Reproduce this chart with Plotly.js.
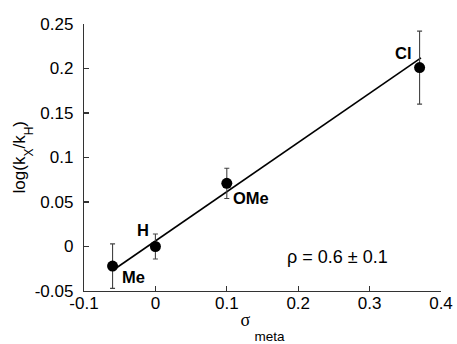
<!DOCTYPE html>
<html>
<head>
<meta charset="utf-8">
<script src="https://cdn.plot.ly/plotly-3.0.1.min.js"></script>
<style>html,body{margin:0;padding:0;background:#fff;}#chart{width:457px;height:344px;}</style>
</head>
<body>
<div id="chart"></div>
<script>
const labels = ["Me", "H", "OMe", "Cl"];
const sigmaMeta = [-0.06, 0.0, 0.10, 0.37];
const logRatio = [-0.022, 0.0, 0.071, 0.201];
const errors = [0.025, 0.014, 0.017, 0.041];
const fitX = [-0.06, 0.372];
const fitY = [-0.027, 0.212];
const xTickVals = [-0.1, 0, 0.1, 0.2, 0.3, 0.4];
const xTickText = ["-0.1", "0", "0.1", "0.2", "0.3", "0.4"];
const yTickVals = [-0.05, 0, 0.05, 0.1, 0.15, 0.2, 0.25];
const yTickText = ["-0.05", "0", "0.05", "0.1", "0.15", "0.2", "0.25"];
const rhoText = "ρ = 0.6 ± 0.1";
const rhoPos = [0.255, -0.012];
const labelShift = [[21, -11], [-12, 17], [24, -15], [-16, 15]];

const font = "Liberation Sans, Arial, Helvetica, sans-serif";
const sub = (t, size, shift) => "<span style='font-family:Liberation Sans, Arial, sans-serif;font-size:" + size + "px;baseline-shift:-" + shift + "px'>" + t + "</span>";

const traces = [
  {x: fitX, y: fitY, mode: "lines", type: "scatter",
   line: {color: "#000", width: 1.6}, hoverinfo: "skip", showlegend: false},
  {x: sigmaMeta, y: logRatio, mode: "markers", type: "scatter",
   marker: {color: "#000", size: 11},
   error_y: {type: "data", array: errors, visible: true, color: "#444", thickness: 1.1, width: 2.5},
   showlegend: false}
];

const annotations = labels.map((t, i) => ({
  x: sigmaMeta[i], y: logRatio[i], xref: "x", yref: "y",
  text: "<b>" + t + "</b>", showarrow: false,
  xshift: labelShift[i][0], yshift: labelShift[i][1],
  font: {family: font, size: 16.5, color: "#000"}
}));
annotations.push({x: rhoPos[0], y: rhoPos[1], xref: "x", yref: "y", text: rhoText,
  showarrow: false, font: {family: font, size: 18, color: "#000"}});
// y-axis title
annotations.push({x: -0.171, y: 0.5, xref: "paper", yref: "paper", textangle: -90,
  xanchor: "center", yanchor: "middle", showarrow: false,
  text: "log(k" + sub("X", 12, 8) + "/k" + sub("H", 12, 8) + ")",
  font: {family: font, size: 17, color: "#000"}});

const layout = {
  width: 457, height: 344,
  margin: {l: 84, r: 16, t: 24, b: 53},
  paper_bgcolor: "#fff", plot_bgcolor: "#fff",
  font: {family: font, size: 17, color: "#000"},
  showlegend: false,
  xaxis: {range: [-0.1, 0.4], tickmode: "array", tickvals: xTickVals, ticktext: xTickText,
    showgrid: false, zeroline: false,
    showline: true, linecolor: "#333", linewidth: 1.2, ticks: "inside", ticklen: 5,
    tickcolor: "#333", tickwidth: 1.2, ticklabelstandoff: -4,
    title: {text: "σ " + sub("meta", 13.5, 15), font: {family: "Liberation Serif, Times New Roman, serif", size: 18}, standoff: 13}},
  yaxis: {range: [-0.05, 0.25], tickmode: "array", tickvals: yTickVals, ticktext: yTickText,
    showgrid: false, zeroline: false,
    showline: true, linecolor: "#333", linewidth: 1.2, ticks: "inside", ticklen: 5,
    tickcolor: "#333", tickwidth: 1.2, ticklabelstandoff: 6},
  annotations: annotations
};

Plotly.newPlot("chart", traces, layout, {displayModeBar: false, staticPlot: true});
</script>
</body>
</html>
